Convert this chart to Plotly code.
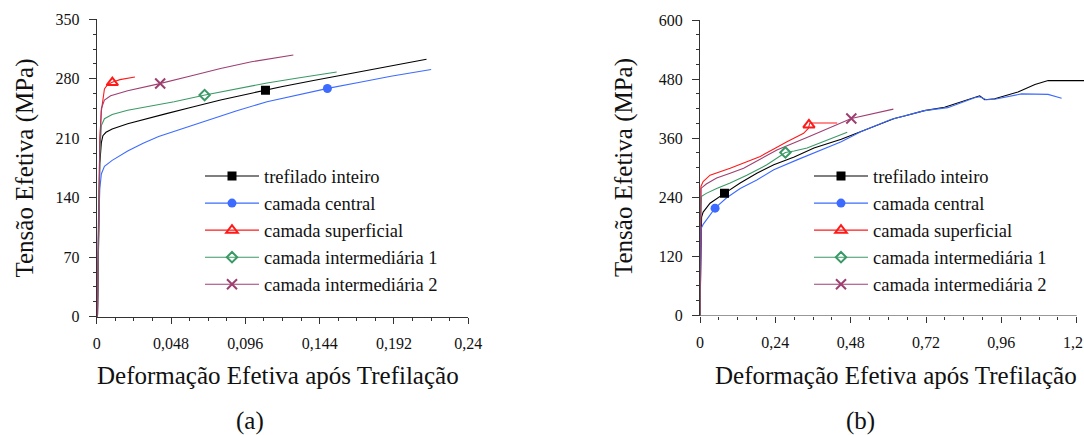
import plotly.graph_objects as go

W, H = 1084, 435
FONT = "Liberation Serif, Times New Roman, serif"

# ---------------- Panel (a) data ----------------
a_black_x = [0.0005, 0.001, 0.0015, 0.002, 0.003, 0.004, 0.006, 0.01, 0.02, 0.03, 0.045, 0.06, 0.08, 0.1, 0.12, 0.14, 0.16, 0.18, 0.2, 0.213]
a_black_y = [0, 60, 120, 180, 205, 213, 217, 221, 227, 232, 239, 246, 255, 263, 271, 278, 285, 292, 299, 303]
a_blue_x = [0.0005, 0.001, 0.002, 0.003, 0.005, 0.01, 0.02, 0.03, 0.04, 0.055, 0.07, 0.09, 0.11, 0.13, 0.15, 0.17, 0.19, 0.216]
a_blue_y = [0, 90, 150, 168, 177, 184, 195, 204, 212, 221, 230, 242, 253, 261, 269, 276, 283, 291]
a_red_x = [0.0005, 0.001, 0.0015, 0.002, 0.003, 0.004, 0.005, 0.007, 0.01, 0.015, 0.02, 0.0247]
a_red_y = [0, 80, 170, 210, 242, 258, 268, 273, 276, 279, 281, 282]
a_green_x = [0.0005, 0.001, 0.002, 0.003, 0.005, 0.01, 0.02, 0.035, 0.05, 0.07, 0.09, 0.11, 0.13, 0.155]
a_green_y = [0, 80, 190, 225, 233, 238, 243, 248, 253, 261, 268, 275, 281, 288]
a_purple_x = [0.0005, 0.001, 0.002, 0.003, 0.005, 0.009, 0.02, 0.04, 0.06, 0.08, 0.1, 0.127]
a_purple_y = [0, 100, 200, 245, 255, 260, 266, 274, 283, 292, 300, 308]
# marker positions (black, blue, red, green, purple)
a_mark_x = [0.109, 0.149, 0.0101, 0.0697, 0.041]
a_mark_y = [266.6, 268.5, 275.6, 260.8, 274.4]

a_xticks = [0, 0.048, 0.096, 0.144, 0.192, 0.24]
a_xticktext = ["0", "0,048", "0,096", "0,144", "0,192", "0,24"]
a_yticks = [0, 70, 140, 210, 280, 350]
a_yticktext = ["0", "70", "140", "210", "280", "350"]

# ---------------- Panel (b) data ----------------
b_black_x = [0, 0.003, 0.005, 0.01, 0.032, 0.078, 0.128, 0.181, 0.235, 0.3, 0.363, 0.45, 0.512, 0.619, 0.651, 0.715, 0.779, 0.875, 0.891, 0.907, 0.939, 1.013, 1.067, 1.109, 1.23]
b_black_y = [0, 150, 200, 210, 228, 248, 269, 289, 306, 322, 340, 358, 373, 400, 405, 416, 423, 442, 446, 438, 440, 454, 469, 477, 477]
b_blue_x = [0, 0.002, 0.004, 0.01, 0.021, 0.048, 0.085, 0.128, 0.181, 0.235, 0.309, 0.384, 0.45, 0.512, 0.608, 0.715, 0.789, 0.875, 0.891, 0.912, 0.939, 1.024, 1.056, 1.109, 1.152]
b_blue_y = [0, 120, 177, 185, 194, 218, 239, 258, 275, 296, 316, 336, 353, 373, 398, 416, 422, 442, 444, 438, 439, 450, 450, 449, 441]
b_red_x = [0, 0.001, 0.003, 0.01, 0.032, 0.096, 0.149, 0.192, 0.235, 0.277, 0.33, 0.345, 0.35, 0.437]
b_red_y = [0, 200, 262, 272, 285, 299, 312, 323, 338, 353, 370, 380, 391, 391]
b_green_x = [0, 0.002, 0.005, 0.02, 0.053, 0.096, 0.149, 0.213, 0.272, 0.3, 0.341, 0.4, 0.469]
b_green_y = [0, 200, 242, 248, 258, 269, 285, 306, 331, 334, 340, 355, 372]
b_purple_x = [0, 0.001, 0.003, 0.02, 0.053, 0.096, 0.139, 0.171, 0.245, 0.35, 0.482, 0.616]
b_purple_y = [0, 200, 258, 267, 279, 289, 299, 310, 336, 364, 400, 419]
b_mark_x = [0.078, 0.048, 0.347, 0.272, 0.482]
b_mark_y = [248, 218, 387, 331, 400]

b_xticks = [0, 0.24, 0.48, 0.72, 0.96, 1.2]
b_xticktext = ["0", "0,24", "0,48", "0,72", "0,96", "1,2"]
b_yticks = [0, 120, 240, 360, 480, 600]
b_yticktext = ["0", "120", "240", "360", "480", "600"]

names = ["trefilado inteiro", "camada central", "camada superficial",
         "camada intermediária 1", "camada intermediária 2"]
colors = ["#000000", "#3D6BFF", "#FF1A1A", "#3A9A66", "#9E3F72"]
symbols = ["square", "circle", "triangle-up-open", "diamond-open", "x-thin-open"]
msizes = [9, 9, 10, 8, 10]
mlw = [0, 0, 2, 2, 2]

fig = go.Figure()

def add_panel(series, mx, my, xa, ya, legend):
    for i, (sx, sy) in enumerate(series):
        fig.add_trace(go.Scatter(x=sx, y=sy, mode="lines", xaxis=xa, yaxis=ya,
                                 line=dict(color=colors[i], width=1.1),
                                 showlegend=False, hoverinfo="skip"))
    for i in range(5):
        mk = dict(symbol=symbols[i], size=msizes[i], color=colors[i],
                  line=dict(color=colors[i], width=mlw[i]))
        fig.add_trace(go.Scatter(x=[mx[i]], y=[my[i]], mode="lines+markers",
                                 xaxis=xa, yaxis=ya, name=names[i], legend=legend,
                                 line=dict(color=colors[i], width=1.1), marker=mk))

add_panel([(a_black_x, a_black_y), (a_blue_x, a_blue_y), (a_red_x, a_red_y),
           (a_green_x, a_green_y), (a_purple_x, a_purple_y)],
          a_mark_x, a_mark_y, "x", "y", "legend")
add_panel([(b_black_x, b_black_y), (b_blue_x, b_blue_y), (b_red_x, b_red_y),
           (b_green_x, b_green_y), (b_purple_x, b_purple_y)],
          b_mark_x, b_mark_y, "x2", "y2", "legend2")

def px(x):
    return x / W

def py(y):
    return 1 - y / H

tickfont = dict(family=FONT, size=16, color="#111")
axcol = "#333"

common_x = dict(ticks="outside", ticklen=6, tickwidth=1, tickcolor=axcol,
                tickfont=tickfont, showgrid=False, zeroline=False, automargin=False,
                tickmode="array", ticklabelstandoff=6, ticklabeloverflow="allow")
common_y = dict(ticks="outside", ticklen=7, tickwidth=1, tickcolor=axcol,
                tickfont=tickfont, showgrid=False, zeroline=False, automargin=False,
                showline=True, linecolor=axcol, linewidth=1,
                tickmode="array", ticklabelstandoff=6, ticklabeloverflow="allow")

b_ratio = (W - 700.0) / (1076.7 - 700.0)

# last tick label of panel (b) is placed separately so it stays inside the page
b_xticktext_axis = b_xticktext[:-1] + [""]

legfont = dict(family=FONT, size=18.5, color="#111")
fig.update_layout(
    template="none",
    width=W, height=H, margin=dict(l=0, r=0, t=0, b=0, pad=0, autoexpand=False),
    paper_bgcolor="white", plot_bgcolor="white",
    font=dict(family=FONT, color="#111"),
    showlegend=True,
    xaxis=dict(domain=[px(96.7), px(468.3)], range=[0, 0.24], anchor="y",
               tickvals=a_xticks, ticktext=a_xticktext,
               showline=True, linecolor=axcol, linewidth=1,
               minor=dict(tickmode="linear", tick0=0, dtick=0.012, ticklen=3,
                          tickcolor=axcol, ticks="outside"),
               **common_x),
    yaxis=dict(domain=[py(316.7), py(19.3)], range=[0, 350], anchor="x",
               tickvals=a_yticks, ticktext=a_yticktext,
               minor=dict(tickmode="linear", tick0=0, dtick=17.5, ticklen=3,
                          tickcolor=axcol, ticks="outside"),
               **common_y),
    xaxis2=dict(domain=[px(700), 1.0], range=[0, 1.2 * b_ratio], anchor="y2",
                tickvals=b_xticks, ticktext=b_xticktext_axis, showline=False,
                minor=dict(tickmode="linear", tick0=0, dtick=0.06, ticklen=3,
                           tickcolor=axcol, ticks="outside"),
                **common_x),
    yaxis2=dict(domain=[py(315.5), py(20)], range=[0, 600], anchor="x2",
                tickvals=b_yticks, ticktext=b_yticktext,
                minor=dict(tickmode="linear", tick0=0, dtick=30, ticklen=3,
                           tickcolor=axcol, ticks="outside"),
                **common_y),
    legend=dict(x=px(200), y=py(157.5), xanchor="left", yanchor="top",
                bgcolor="rgba(0,0,0,0)", font=legfont, borderwidth=0,
                itemwidth=54, tracegroupgap=0),
    legend2=dict(x=px(809), y=py(157.5), xanchor="left", yanchor="top",
                 bgcolor="rgba(0,0,0,0)", font=legfont, borderwidth=0,
                 itemwidth=54, tracegroupgap=0),
)

# bottom axis line for panel (b), ending at 1,2
fig.add_shape(type="line", xref="x2", yref="y2", x0=0, x1=1.2, y0=0, y1=0,
              line=dict(color=axcol, width=1))

# "1,2" label at the last tick, nudged to stay within the page
fig.add_annotation(xref="x2", yref="paper", x=b_xticks[-1], y=py(342.5),
                   text=b_xticktext[-1], showarrow=False, xanchor="right",
                   yanchor="middle", xshift=8, font=tickfont)

titlefont = dict(family=FONT, size=25, color="#111")
ann = [
    dict(text="Tensão Efetiva (MPa)", x=px(24.5), y=py(168), textangle=-90),
    dict(text="Tensão Efetiva (MPa)", x=px(624), y=py(168), textangle=-90),
    dict(text="Deformação Efetiva após Trefilação", x=px(278), y=py(375)),
    dict(text="Deformação Efetiva após Trefilação", x=px(896), y=py(375)),
    dict(text="(a)", x=px(250), y=py(421)),
    dict(text="(b)", x=px(860), y=py(421)),
]
for a in ann:
    fig.add_annotation(xref="paper", yref="paper", xanchor="center", yanchor="middle",
                       showarrow=False, font=titlefont, **a)

fig.write_html("out.html",
               post_script="document.body.style.margin='0';document.body.style.overflow='hidden';")
